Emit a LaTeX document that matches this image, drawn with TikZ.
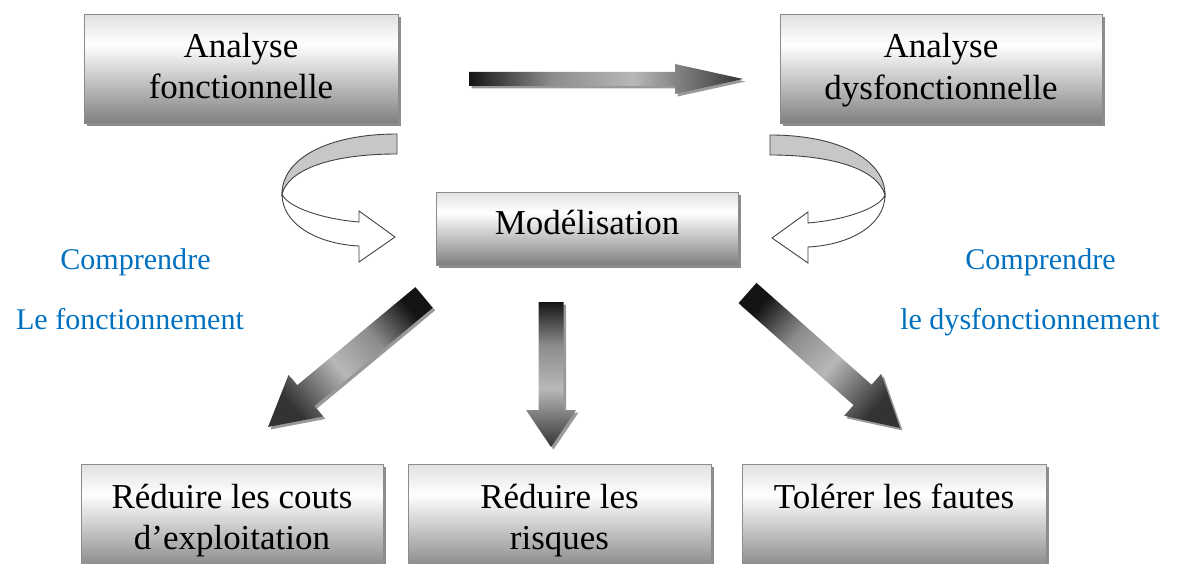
\documentclass[tikz,border=0pt]{standalone}
\usepackage{fontspec}
\setmainfont{Liberation Serif}
\usetikzlibrary{positioning, shadows}
\definecolor{noteblue}{RGB}{0,112,192}
\pgfdeclareverticalshading{boxshade}{100bp}{color(0bp)=(black!50); color(25bp)=(black!50); color(61bp)=(white); color(75bp)=(black!12); color(100bp)=(black!12)}
\pgfdeclarehorizontalshading{fatshade}{100bp}{color(0bp)=(black!92); color(25bp)=(black!92); color(40bp)=(black!45); color(55bp)=(black!28); color(75bp)=(black!80); color(100bp)=(black!80)}
\newcommand{\boxfont}{\fontsize{19.9pt}{23.7pt}\selectfont}
\newcommand{\notefont}{\fontsize{17.1pt}{20pt}\selectfont}
\tikzstyle{block}=[draw=black!45, shading=boxshade, rectangle, inner sep=0pt, drop shadow={shadow xshift=1.5pt, shadow yshift=-1.5pt, fill=black!45, opacity=1}]
\tikzstyle{boxtext}=[font=\boxfont, align=center, inner sep=0pt]
\tikzstyle{note}=[font=\notefont, text=noteblue, anchor=base, inner sep=0pt]
\tikzstyle{turnback}=[fill=black!22, draw=black!75, line width=0.5pt]
\tikzstyle{turnfront}=[fill=white, draw=black!75, line width=0.5pt]
\tikzset{turn arrow/.pic={
  \path[turnback] (0,0) .. controls (70,0) and (115,25) .. (115,60)
    .. controls (108,35) and (65,20) .. (0,20) -- cycle;
  \path[turnfront] (115,60) .. controls (115,90) and (80,110) .. (38,112)
    -- (38,128) -- (2,103) -- (38,77) -- (38,88)
    .. controls (75,85) and (110,73) .. (115,60) -- cycle;
}}
% tail, angle, length, shaft, head width, head length
\newcommand{\fatarrow}[6]{%
  \fill[black!40, shift={#1}, shift={(2.5,2.5)}, rotate=#2]
    (0,-#4/2) -- ({#3-#6},-#4/2) -- ({#3-#6},-#5/2) -- (#3,0)
    -- ({#3-#6},#5/2) -- ({#3-#6},#4/2) -- (0,#4/2) -- cycle;
  \shade[shading=fatshade, shading angle=#2, shift={#1}, rotate=#2]
    (0,-#4/2) -- ({#3-#6},-#4/2) -- ({#3-#6},-#5/2) -- (#3,0)
    -- ({#3-#6},#5/2) -- ({#3-#6},#4/2) -- (0,#4/2) -- cycle;}

\begin{document}
\begin{tikzpicture}[x=0.02cm, y=-0.02cm]
  \clip (0,0) rectangle (1179,564);
  % top row
  \node[block, minimum width=6.28cm, minimum height=2.18cm] (fonc) at (241,68.5) {};
  \node[boxtext, below=10.8pt of fonc.north] (fonctxt) {Analyse\\fonctionnelle};
  \node[block, minimum width=6.44cm, minimum height=2.18cm] (dysf) at (941,69) {};
  \node[boxtext, below=10.8pt of dysf.north] (dysftxt) {Analyse\\dysfonctionnelle};
  \fatarrow{(469,79)}{0}{274}{14}{30}{68}
  % middle
  \node[block, minimum width=6.04cm, minimum height=1.46cm] (model) at (587,228.5) {};
  \node[boxtext, below=10.3pt of model.north] (modeltxt) {Modélisation};
  \pic[xscale=-1] at (397,134) {turn arrow};
  \pic at (770,135) {turn arrow};
  \node[note] (compl) at (135.5,269) {Comprendre};
  \node[note] (foncl) at (130,329) {Le fonctionnement};
  \node[note] (compr) at (1040.5,269) {Comprendre};
  \node[note] (dysfr) at (1030,329) {le dysfonctionnement};
  % arrows down
  \fatarrow{(424,297.5)}{219.7}{202.7}{27}{54}{49}
  \fatarrow{(551,302)}{-90}{145}{25}{50}{37}
  \fatarrow{(747.5,293)}{-41.5}{203.7}{27}{56}{50}
  % bottom row
  \node[block, minimum width=6.04cm, minimum height=2.18cm] (couts) at (232,518.5) {};
  \node[boxtext, below=11.2pt of couts.north] (coutstxt) {Réduire les couts\\d’exploitation};
  \node[block, minimum width=6.06cm, minimum height=2.18cm] (risk) at (559.5,518.5) {};
  \node[boxtext, below=11.2pt of risk.north] (risktxt) {Réduire les\\risques};
  \node[block, minimum width=6.08cm, minimum height=2.18cm] (faut) at (894,518.5) {};
  \node[boxtext, below=11.2pt of faut.north] (fauttxt) {Tolérer les fautes};
\end{tikzpicture}
\end{document}
